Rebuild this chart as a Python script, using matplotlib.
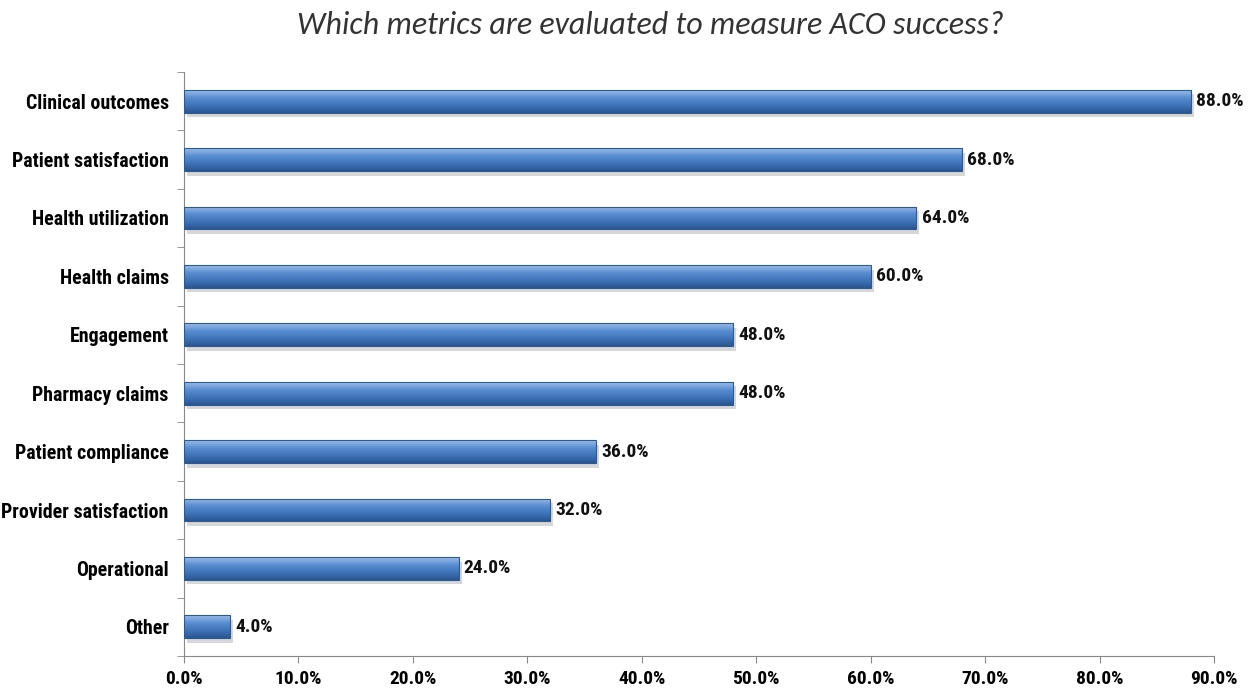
import numpy as np
import matplotlib.pyplot as plt
from matplotlib.colors import LinearSegmentedColormap
from matplotlib.ticker import FuncFormatter, FixedLocator

categories = ['Clinical outcomes', 'Patient satisfaction', 'Health utilization',
              'Health claims', 'Engagement', 'Pharmacy claims', 'Patient compliance',
              'Provider satisfaction', 'Operational', 'Other']
values = [88.0, 68.0, 64.0, 60.0, 48.0, 48.0, 36.0, 32.0, 24.0, 4.0]

lab_font = ['Liberation Sans Narrow', 'Roboto Condensed', 'Archivo Narrow', 'DejaVu Sans']

fig = plt.figure(figsize=(12.53, 6.91), dpi=100)
ax = fig.add_axes([184 / 1253, 1 - 656 / 691, (1214 - 184) / 1253, (656 - 72) / 691])

y = np.arange(len(categories))
bar_h = 0.39
bars = ax.barh(y, values, height=bar_h, color='#4f81bd', edgecolor='none', zorder=3)

# gradient fill + soft shadow per bar (light top, dark bottom)
cmap = LinearSegmentedColormap.from_list('blu', ['#9dbde8', '#5a8ed2', '#3f74ba', '#2a5690'])
grad = np.linspace(0, 1, 64).reshape(-1, 1)
for b in bars:
    x0, y0 = b.get_x(), b.get_y()
    w, h = b.get_width(), b.get_height()
    ax.add_patch(plt.Rectangle((x0 + 0.25, y0 + 0.08), w, h, color='#b0b0b0',
                               alpha=0.5, zorder=2, lw=0))
    im = ax.imshow(grad, extent=(x0, x0 + w, y0 + h, y0), cmap=cmap, aspect='auto',
                   zorder=4, origin='upper')
    im.set_clip_path(b)
    ax.add_patch(plt.Rectangle((x0, y0), w, h, fill=False, ec='#2d5a92', lw=0.8, zorder=5))

for yi, v in zip(y, values):
    ax.text(v + 0.45, yi, f'{v:.1f}%', va='center', ha='left', fontsize=14,
            fontweight='bold', family=lab_font, color='#111111')

ax.set_ylim(len(categories) - 0.5, -0.5)
ax.set_xlim(0, 90)
ax.set_yticks(y)
ax.set_yticklabels(categories, fontsize=14.3, fontweight='bold', family=lab_font)
ax.yaxis.set_minor_locator(FixedLocator(np.arange(-0.5, len(categories), 1)))
ax.tick_params(axis='y', which='major', length=0, pad=11)
ax.tick_params(axis='y', which='minor', length=5, color='#888888', direction='out')
ax.set_xticks(np.arange(0, 91, 10))
ax.xaxis.set_major_formatter(FuncFormatter(lambda v, p: f'{v:.1f}%'))
ax.tick_params(axis='x', length=5, color='#888888', pad=5)
for lbl in ax.get_xticklabels():
    lbl.set_fontsize(14)
    lbl.set_fontweight('bold')
    lbl.set_family(lab_font)

for s in ['top', 'right']:
    ax.spines[s].set_visible(False)
ax.spines['left'].set_color('#888888')
ax.spines['bottom'].set_color('#888888')

fig.text(650 / 1253, 1 - 34 / 691, 'Which metrics are evaluated to measure ACO success?',
         ha='center', va='baseline', fontsize=23, style='italic',
         family=['Carlito', 'DejaVu Sans'], color='#333333')

plt.savefig('out.png', dpi=100)
